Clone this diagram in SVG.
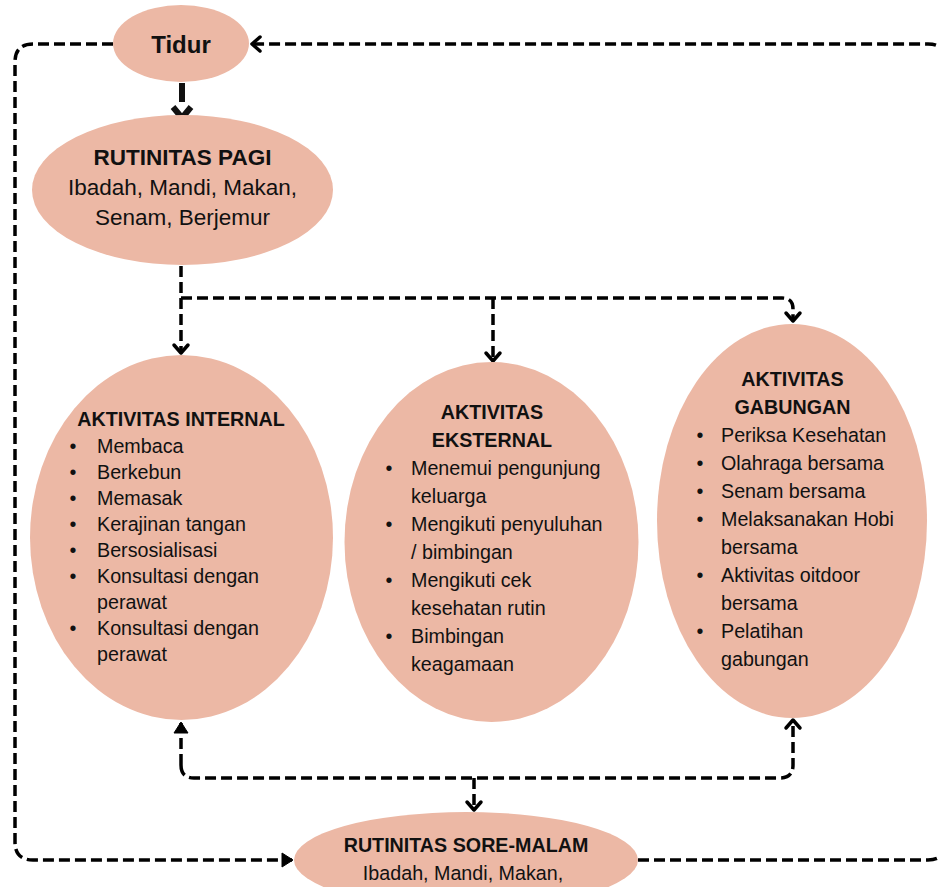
<svg xmlns="http://www.w3.org/2000/svg" width="939" height="887" viewBox="0 0 939 887">
<style>
.node{fill:#ECB8A5;}
.t{font-family:"Liberation Sans",Arial,sans-serif;fill:#111;}
.b{font-weight:bold;}
.c{text-anchor:middle;}
.s20{font-size:19.7px;}
.s22{font-size:22.5px;}
.con{fill:none;stroke:#000;stroke-width:3.5;stroke-dasharray:11 5;}
</style>
<defs>
<marker id="chev" markerUnits="userSpaceOnUse" markerWidth="20" markerHeight="20" refX="0" refY="0" viewBox="-12 -10 14 20" orient="auto">
<path d="M-8,-7 L0,0 L-8,7" fill="none" stroke="#000" stroke-width="3.5" stroke-dasharray="none" stroke-linecap="round" stroke-linejoin="round"/>
</marker>
<marker id="tri" markerUnits="userSpaceOnUse" markerWidth="20" markerHeight="20" refX="0" refY="0" viewBox="-12 -10 14 20" orient="auto">
<path d="M-10,-7 L1,0 L-10,7 Z" fill="#000" stroke="#000" stroke-width="1" stroke-dasharray="none" stroke-linejoin="round"/>
</marker>
</defs>
<rect width="939" height="887" fill="#fff"/>

<g id="connectors">
<path class="con" d="M113,44 H33 Q15,44 15,62 V842 Q15,860 33,860 H292" marker-end="url(#tri)"/>
<path class="con" d="M638,860 H928 Q946,860 946,842 V62 Q946,44 928,44 H252" marker-end="url(#chev)"/>
<path d="M182,83 V102" stroke="#111" stroke-width="6" fill="none"/>
<path d="M173,107 L182,118 L191,107" stroke="#111" stroke-width="6" fill="none" stroke-linejoin="miter"/>
<path class="con" d="M181,266 V353" marker-end="url(#chev)"/>
<path class="con" d="M181,298 H782 Q793,298 793,309 V321" marker-end="url(#chev)"/>
<path class="con" d="M493,298 V361" marker-end="url(#chev)"/>
<path class="con" d="M181,765 Q181,778 194,778 H780 Q793,778 793,765 V720" marker-end="url(#chev)"/>
<path class="con" d="M181,765 V723" marker-end="url(#tri)"/>
<path class="con" d="M474,778 V810" marker-end="url(#chev)"/>
</g>

<g id="tidur">
<ellipse class="node" cx="181" cy="43.5" rx="68" ry="38.5"/>
<text class="t b c" x="181" y="52.5" font-size="24">Tidur</text>
</g>

<g id="rutinitas-pagi">
<ellipse class="node" cx="182.5" cy="190" rx="150.5" ry="75"/>
<text class="t b c s22" x="182.5" y="165">RUTINITAS PAGI</text>
<text class="t c s22" x="182.5" y="195">Ibadah, Mandi, Makan,</text>
<text class="t c s22" x="182.5" y="225">Senam, Berjemur</text>
</g>

<g id="aktivitas-internal">
<ellipse class="node" cx="181.5" cy="537.5" rx="151.5" ry="182.5"/>
<text class="t b c s20" x="181" y="426">AKTIVITAS INTERNAL</text>
<g class="t s20">
<text class="c" x="73" y="453">•</text><text x="97" y="453">Membaca</text>
<text class="c" x="73" y="479">•</text><text x="97" y="479">Berkebun</text>
<text class="c" x="73" y="505">•</text><text x="97" y="505">Memasak</text>
<text class="c" x="73" y="531">•</text><text x="97" y="531">Kerajinan tangan</text>
<text class="c" x="73" y="557">•</text><text x="97" y="557">Bersosialisasi</text>
<text class="c" x="73" y="583">•</text><text x="97" y="583">Konsultasi dengan</text>
<text x="97" y="609">perawat</text>
<text class="c" x="73" y="635">•</text><text x="97" y="635">Konsultasi dengan</text>
<text x="97" y="661">perawat</text>
</g>
</g>

<g id="aktivitas-eksternal">
<ellipse class="node" cx="491.5" cy="542" rx="147" ry="180"/>
<text class="t b c s20" x="492" y="419">AKTIVITAS</text>
<text class="t b c s20" x="492" y="447">EKSTERNAL</text>
<g class="t s20">
<text class="c" x="389" y="475">•</text><text x="411" y="475">Menemui pengunjung</text>
<text x="411" y="503">keluarga</text>
<text class="c" x="389" y="531">•</text><text x="411" y="531">Mengikuti penyuluhan</text>
<text x="411" y="559">/ bimbingan</text>
<text class="c" x="389" y="587">•</text><text x="411" y="587">Mengikuti cek</text>
<text x="411" y="615">kesehatan rutin</text>
<text class="c" x="389" y="643">•</text><text x="411" y="643">Bimbingan</text>
<text x="411" y="671">keagamaan</text>
</g>
</g>

<g id="aktivitas-gabungan">
<ellipse class="node" cx="792" cy="521" rx="135" ry="197"/>
<text class="t b c s20" x="792.5" y="386">AKTIVITAS</text>
<text class="t b c s20" x="792.5" y="414">GABUNGAN</text>
<g class="t s20">
<text class="c" x="700" y="442">•</text><text x="721" y="442">Periksa Kesehatan</text>
<text class="c" x="700" y="470">•</text><text x="721" y="470">Olahraga bersama</text>
<text class="c" x="700" y="498">•</text><text x="721" y="498">Senam bersama</text>
<text class="c" x="700" y="526">•</text><text x="721" y="526">Melaksanakan Hobi</text>
<text x="721" y="554">bersama</text>
<text class="c" x="700" y="582">•</text><text x="721" y="582">Aktivitas oitdoor</text>
<text x="721" y="610">bersama</text>
<text class="c" x="700" y="638">•</text><text x="721" y="638">Pelatihan</text>
<text x="721" y="666">gabungan</text>
</g>
</g>

<g id="rutinitas-sore-malam">
<ellipse class="node" cx="466" cy="860" rx="172" ry="48"/>
<text class="t b c s20" x="466" y="852">RUTINITAS SORE-MALAM</text>
<text class="t c s20" x="463" y="880">Ibadah, Mandi, Makan,</text>
</g>
</svg>
